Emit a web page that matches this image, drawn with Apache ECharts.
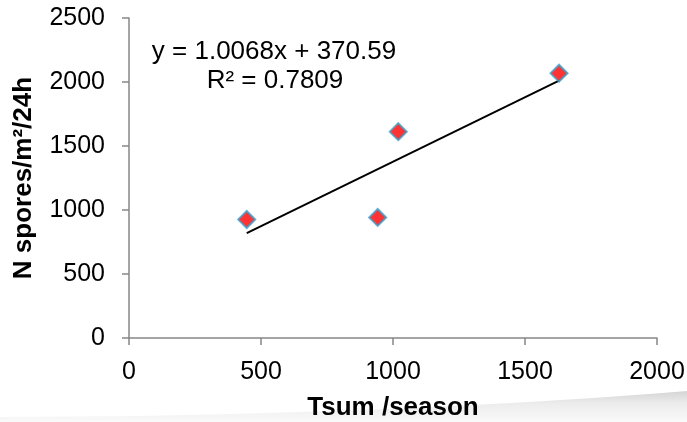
<!DOCTYPE html>
<html>
<head>
<meta charset="utf-8">
<script src="https://cdn.jsdelivr.net/npm/echarts@6/dist/echarts.min.js"></script>
<style>
  html, body { margin: 0; padding: 0; background: #fff; }
  #chart { width: 687px; height: 422px; }
</style>
</head>
<body>
<div id="chart"></div>
<script>
// data
var tsum = [446, 942, 1020, 1629];
var spores = [926, 942, 1612, 2069];
// linear trendline end points (Excel fit y = 1.0068x + 370.59)
var trendX = [446, 1629];
var trendY = [820, 2011];
var xTicks = [0, 500, 1000, 1500, 2000];
var yTicks = [0, 500, 1000, 1500, 2000, 2500];

var points = tsum.map(function (x, i) { return [x, spores[i]]; });
var trend = trendX.map(function (x, i) { return [x, trendY[i]]; });

// grey swoosh at the bottom of the slide (decoration only)
var swoosh = [[0, 422], [0, 417]];
for (var t = 0; t <= 1.0001; t += 0.05) {
  var sx = 2 * (1 - t) * t * 380 + t * t * 687;
  var sy = (1 - t) * (1 - t) * 417 + 2 * (1 - t) * t * 416 + t * t * 391;
  swoosh.push([sx, sy]);
}
swoosh.push([687, 422]);

var myChart = echarts.init(document.getElementById('chart'));
var font = 'Liberation Sans, Arial, sans-serif';
var axisGrey = '#878787';

myChart.setOption({
  animation: false,
  textStyle: { fontFamily: font },
  grid: { left: 129, right: 30, top: 18, bottom: 84, containLabel: false, outerBoundsMode: 'none' },
  graphic: [
    {
      type: 'polygon',
      z: -1,
      shape: { points: swoosh },
      style: {
        fill: {
          type: 'linear', x: 0, y: 0, x2: 0, y2: 1,
          colorStops: [
            { offset: 0, color: '#d4d4d4' },
            { offset: 0.4, color: '#ececec' },
            { offset: 1, color: '#fafafa' }
          ]
        }
      }
    },
    {
      type: 'text',
      x: 274,
      y: 52,
      style: {
        text: 'y = 1.0068x + 370.59',
        font: '26px ' + font,
        fill: '#000',
        align: 'center',
        verticalAlign: 'middle'
      }
    },
    {
      type: 'text',
      x: 275,
      y: 81,
      style: {
        text: 'R² = 0.7809',
        font: '26px ' + font,
        fill: '#000',
        align: 'center',
        verticalAlign: 'middle'
      }
    }
  ],
  xAxis: {
    type: 'value',
    min: xTicks[0],
    max: xTicks[xTicks.length - 1],
    interval: 500,
    name: 'Tsum /season',
    nameLocation: 'middle',
    nameGap: 57,
    nameTextStyle: { fontSize: 26, fontWeight: 'bold', color: '#000', fontFamily: font },
    axisLine: { lineStyle: { color: axisGrey, width: 1.5 } },
    axisTick: { show: true, length: 7, lineStyle: { color: axisGrey, width: 1.5 } },
    axisLabel: { fontSize: 25, color: '#000', margin: 22, fontFamily: font, formatter: function (v) { return String(v); } },
    splitLine: { show: false }
  },
  yAxis: {
    type: 'value',
    min: yTicks[0],
    max: yTicks[yTicks.length - 1],
    interval: 500,
    name: 'N spores/m²/24h',
    nameLocation: 'middle',
    nameGap: 92,
    nameTextStyle: { fontSize: 26, fontWeight: 'bold', color: '#000', fontFamily: font },
    axisLine: { show: true, lineStyle: { color: axisGrey, width: 1.5 } },
    axisTick: { show: true, length: 7, lineStyle: { color: axisGrey, width: 1.5 } },
    axisLabel: { fontSize: 25, color: '#000', margin: 24, fontFamily: font, formatter: function (v) { return String(v); } },
    splitLine: { show: false }
  },
  series: [
    {
      type: 'line',
      data: trend,
      symbol: 'none',
      lineStyle: { color: '#000', width: 2 },
      z: 2
    },
    {
      type: 'scatter',
      data: points,
      symbol: 'diamond',
      symbolSize: 17,
      itemStyle: { color: '#ff0000', borderColor: '#3a9fc8', borderWidth: 2 },
      z: 3
    }
  ]
});
</script>
</body>
</html>
